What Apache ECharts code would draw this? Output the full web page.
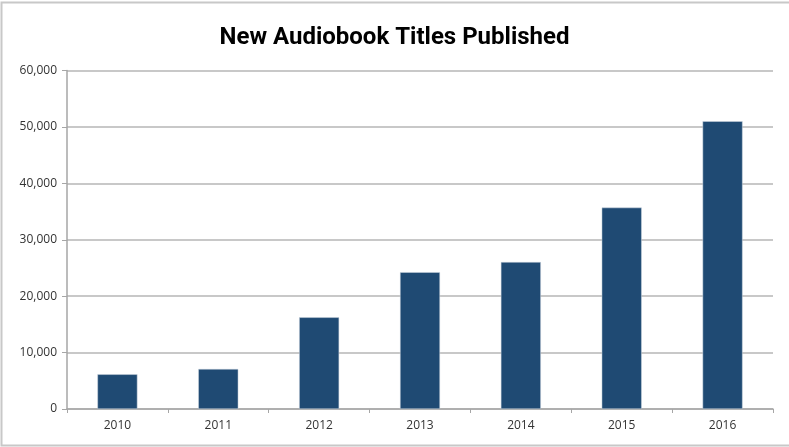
<!DOCTYPE html>
<html><head><meta charset="utf-8">
<script src="https://cdn.jsdelivr.net/npm/echarts@6/dist/echarts.min.js"></script>
<style>html,body{margin:0;padding:0;background:#fff}#c{width:789px;height:447px}</style>
</head><body><div id="c"></div>
<script>
const categories = ['2010','2011','2012','2013','2014','2015','2016'];
const titles = [6150, 7100, 16250, 24250, 26050, 35700, 51000];
const yTicks = [0, 10000, 20000, 30000, 40000, 50000, 60000];

const chart = echarts.init(document.getElementById('c'), null, {renderer:'canvas'});
chart.setOption({
  animation:false,
  backgroundColor:'#fff',
  title:{text:'New Audiobook Titles Published', left:'center', top:21,
    textStyle:{fontFamily:'Liberation Sans Narrow, Roboto, sans-serif', fontWeight:'bold', fontSize:24, color:'#000'}},
  graphic:[{type:'rect', shape:{x:1.5,y:2.5,width:800,height:443}, style:{fill:'none', stroke:'#c8c8c8', lineWidth:2}, silent:true}],
  grid:{left:67, right:16, top:70.5, bottom:38, containLabel:false},
  xAxis:{type:'category', data:categories,
    axisLine:{lineStyle:{color:'#a6a6a6', width:1.5}},
    axisTick:{show:true, alignWithLabel:false, length:4, lineStyle:{color:'#a6a6a6'}},
    axisLabel:{color:'#333', fontFamily:'Open Sans, sans-serif', fontSize:12, margin:11}},
  yAxis:{type:'value', min:yTicks[0], max:yTicks[yTicks.length-1], interval:10000,
    axisLine:{show:true, lineStyle:{color:'#a6a6a6', width:1.5}},
    axisTick:{show:true, length:5, lineStyle:{color:'#a6a6a6'}},
    splitLine:{lineStyle:{color:'#c8c8c8', width:2}},
    axisLabel:{color:'#333', fontFamily:'Open Sans, sans-serif', fontSize:12, margin:10,
      formatter:v=>v.toLocaleString('en-US')}},
  series:[{type:'bar', data:titles, barWidth:40,
    itemStyle:{color:'#1f4a73', borderColor:'#d0d8e0', borderWidth:0.5}}]
});
</script></body></html>
